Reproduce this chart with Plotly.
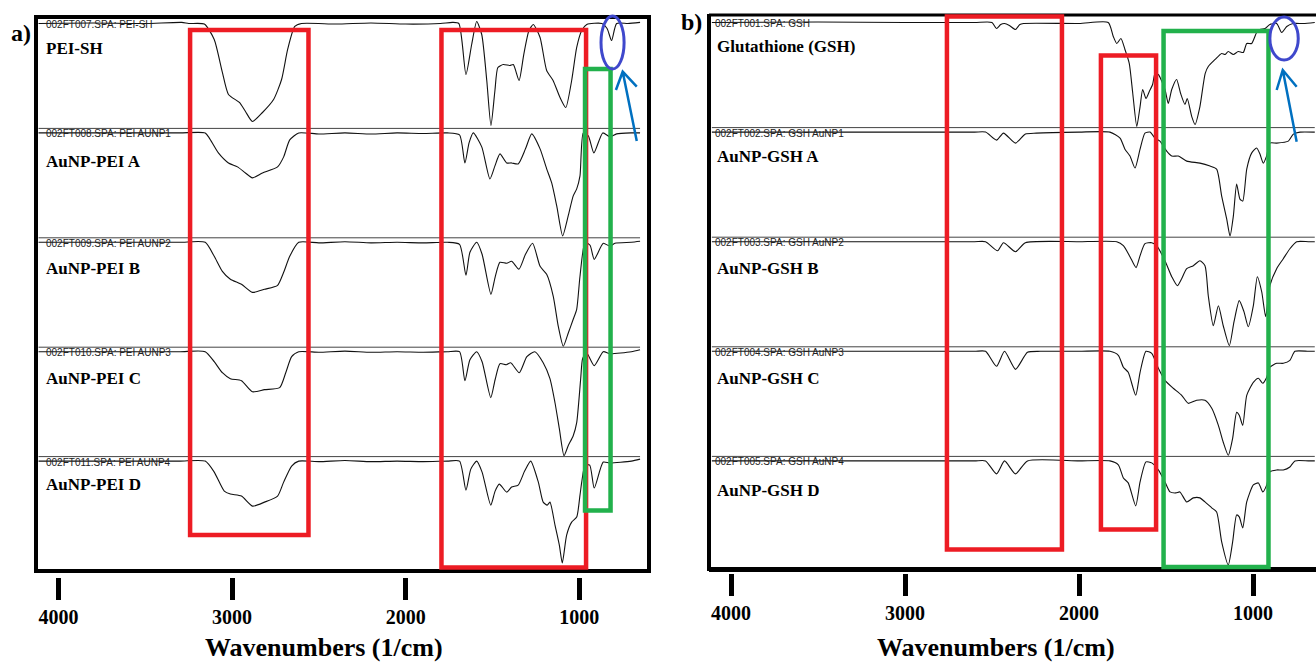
import plotly.graph_objects as go

# ---------------------------------------------------------------------------
# FTIR spectra: wavenumber (cm^-1) and transmittance (%T, 100 = baseline)
# ---------------------------------------------------------------------------

# (a) PEI series
pei_sh_wn = [4115, 3800, 3500, 3290, 3250, 3160, 3103, 3056, 3021, 2958, 2923, 2883, 2825, 2761, 2715, 2680,
             2639, 2600, 2400, 2200, 2000, 1800, 1730, 1694, 1653, 1620, 1591, 1562, 1533, 1509, 1486, 1469,
             1438, 1400, 1380, 1347, 1320, 1290, 1265, 1226, 1188, 1151, 1111, 1078, 1044, 1015, 986, 957,
             870, 840, 814, 785, 720, 650]
pei_sh_t = [100, 100.5, 100, 101, 100, 99.5, 85.5, 55.5, 35.5, 28.2, 20, 10.9, 19.1, 30.9, 49.1, 76.4,
            97.3, 100, 99.5, 100.5, 99.5, 100, 101, 100, 53.6, 80.9, 101.8, 90, 48.2, 7.3, 39.1, 60,
            62.7, 61.8, 62.7, 48.2, 71.8, 93.6, 99.1, 87.3, 57.3, 48.2, 32.7, 23.6, 48.2, 78.2, 93.6, 99.1,
            100, 95.5, 84.5, 100, 100, 101]

pei_a_wn = [4115, 3600, 3300, 3155, 3132, 3079, 3021, 2969, 2923, 2883, 2825, 2738, 2703, 2668, 2616, 2500,
            2350, 2200, 2050, 1900, 1760, 1690, 1659, 1635, 1611, 1562, 1515, 1486, 1457, 1418, 1390, 1352,
            1310, 1274, 1226, 1188, 1159, 1130, 1096, 1064, 1035, 1015, 996, 977, 948, 916, 865, 823, 785,
            700, 650]
pei_a_t = [100, 100, 100, 100, 95.5, 81.8, 72.7, 69.1, 63.6, 59.1, 63.6, 69.1, 78.2, 93.6, 100, 99,
           100, 99, 100, 99.5, 100, 98.2, 72.7, 90.9, 100, 87.3, 58.2, 70, 80.9, 72.7, 72.7, 71.8,
           85.5, 99.1, 85.5, 67.3, 54.5, 33.6, 6.4, 24.5, 42.7, 49.1, 60.9, 100, 97.3, 81.8, 100, 96.4, 99.1,
           100, 100]

pei_b_wn = [4115, 3600, 3300, 3155, 3103, 3056, 3010, 2946, 2883, 2813, 2738, 2703, 2668, 2616, 2500, 2350,
            2200, 2050, 1900, 1760, 1690, 1653, 1630, 1591, 1560, 1509, 1485, 1457, 1418, 1390, 1348, 1310,
            1269, 1226, 1188, 1150, 1121, 1092, 1064, 1035, 1015, 996, 967, 938, 914, 862, 823, 795, 700, 650]
pei_b_t = [100, 100, 100, 100, 87.3, 73.6, 66.4, 61.8, 54.5, 57.3, 60.9, 72.7, 87.3, 100, 99.5, 100.5,
           99.5, 100, 99.5, 100, 98.2, 70, 90.9, 100, 89.1, 52.7, 68.2, 81.8, 80.9, 82.7, 75.5, 89.1,
           99.1, 78.2, 70.9, 50.9, 23.6, 5.5, 17.3, 30, 39.1, 69.1, 100, 97.3, 84.5, 99.1, 96.4, 99.1, 100, 100.9]

pei_c_wn = [4115, 3600, 3300, 3155, 3103, 3056, 3010, 2946, 2883, 2813, 2726, 2691, 2657, 2616, 2500, 2350,
            2200, 2050, 1900, 1760, 1690, 1659, 1630, 1591, 1560, 1510, 1485, 1457, 1420, 1395, 1346, 1302,
            1256, 1208, 1169, 1140, 1115, 1088, 1064, 1035, 1015, 992, 981, 958, 914, 862, 823, 700, 650]
pei_c_t = [100, 100, 100, 100, 90.9, 80.9, 75.5, 73.6, 63.6, 65.5, 67.3, 80.9, 95.5, 100, 99.5, 100.5,
           99.5, 100, 99.5, 100, 100, 73.6, 92.7, 100, 90.9, 58.2, 74.5, 89.1, 88.2, 90, 80.9, 95.5,
           100, 90, 75.5, 53.6, 30, 5.5, 14.5, 23.6, 35.5, 75.5, 93.6, 99.1, 87.3, 100, 98.2, 100, 101.8]

pei_d_wn = [4115, 3600, 3300, 3155, 3103, 3045, 3010, 2946, 2883, 2813, 2738, 2703, 2657, 2616, 2500, 2350,
            2200, 2050, 1900, 1760, 1690, 1653, 1625, 1591, 1560, 1510, 1485, 1461, 1418, 1390, 1352, 1315,
            1280, 1236, 1208, 1185, 1169, 1140, 1115, 1098, 1073, 1044, 1015, 996, 986, 967, 940, 914, 862,
            823, 700, 650]
pei_d_t = [100, 100, 100, 100, 90, 72.7, 70, 68.2, 59.1, 62.7, 68.2, 80.9, 95.5, 100, 99.5, 100.5,
           99.5, 100, 99.5, 100, 100, 73.6, 92.7, 100, 90, 60, 72.7, 79.1, 71.8, 76.4, 78.2, 90.9,
           100, 80.9, 62.7, 60, 62.7, 41.8, 23.6, 7.3, 32.7, 44.5, 49.1, 69.1, 80.9, 96.4, 96.4, 75.5, 99.1,
           98.2, 100, 101.8]

# (b) GSH series
gsh_wn = [4110, 3500, 3000, 2600, 2500, 2474, 2450, 2428, 2400, 2365, 2340, 2319, 2000, 1832, 1803, 1783,
          1759, 1736, 1711, 1691, 1668, 1649, 1634, 1615, 1596, 1577, 1563, 1544, 1506, 1487, 1467, 1439,
          1416, 1391, 1378, 1352, 1333, 1305, 1275, 1257, 1218, 1180, 1161, 1142, 1113, 1085, 1056, 1036,
          1008, 979, 960, 931, 903, 864, 835, 806, 769, 711, 645]
gsh_t = [100, 100.5, 100, 100, 100, 94.5, 98.2, 99.1, 97.3, 93.6, 98.2, 99.1, 99.1, 100, 87.3, 80.9,
         85.5, 75.5, 62.7, 35.5, 5.5, 23.6, 39.1, 30.9, 37.3, 43.6, 53.6, 52.7, 39.1, 26.4, 39.1, 48.2,
         35.5, 25.5, 30.9, 14.5, 7.3, 23.6, 53.6, 60, 66.4, 71.8, 70.9, 73.6, 70.9, 73.6, 72.7, 80.9,
         80.9, 90.9, 93.6, 94.5, 98.2, 99.1, 90.9, 96.4, 99.1, 99.1, 100]

gsh_a_wn = [4110, 3500, 3000, 2600, 2537, 2474, 2434, 2365, 2308, 2245, 2000, 1822, 1764, 1736, 1707, 1678,
            1649, 1621, 1592, 1563, 1535, 1496, 1467, 1429, 1381, 1305, 1247, 1209, 1180, 1151, 1132, 1113,
            1094, 1075, 1059, 1036, 1008, 979, 960, 941, 922, 903, 864, 797, 768, 730, 645]
gsh_a_t = [100, 100, 100, 100, 100, 92.7, 99.1, 90, 98.2, 99.1, 100, 100, 94.5, 84.5, 78.2, 67.3,
           84.5, 99.1, 100, 94.5, 91.8, 82.7, 78.2, 78.2, 73.6, 71.8, 69.1, 66.4, 41.8, 20.9, 5.5, 23.6,
           52.7, 39.1, 37.3, 66.4, 80.9, 85.5, 80, 71.8, 78.2, 90, 90, 91.8, 98.2, 100, 100]

gsh_b_wn = [4110, 3500, 3000, 2600, 2537, 2468, 2434, 2365, 2308, 2000, 1783, 1745, 1707, 1672, 1649, 1621,
            1582, 1554, 1506, 1467, 1435, 1410, 1381, 1343, 1305, 1276, 1257, 1228, 1199, 1171, 1136, 1109,
            1079, 1052, 1027, 998, 975, 950, 927, 903, 864, 826, 788, 749, 682, 645]
gsh_b_t = [100, 100, 100, 100, 100, 91.8, 99.1, 90.9, 99.1, 100, 100, 96.4, 86.4, 76.4, 87.3, 98.2,
           99.1, 96.4, 82.7, 68.2, 60, 66.4, 75.5, 78.2, 82.7, 78.2, 50.9, 23.6, 41.8, 23.6, 5.5, 27.3,
           46.4, 36.4, 22.7, 41.8, 68.2, 54.5, 31.8, 60, 75.5, 84.5, 93.6, 100, 100, 100]

gsh_c_wn = [4110, 3500, 3000, 2600, 2537, 2474, 2428, 2365, 2296, 2222, 2000, 1822, 1774, 1745, 1717, 1674,
            1649, 1615, 1582, 1544, 1506, 1458, 1410, 1372, 1324, 1276, 1237, 1199, 1171, 1142, 1117, 1094,
            1079, 1059, 1036, 998, 969, 944, 921, 903, 864, 826, 788, 759, 682, 645]
gsh_c_t = [100, 100, 100, 100, 100, 86.4, 100, 83.6, 99.1, 100, 100, 100, 96.4, 85.5, 80.9, 60,
           80.9, 100, 98.2, 84.5, 73.6, 66.4, 60, 52.7, 55.5, 55.5, 48.2, 32.7, 17.3, 5.5, 20.9, 44.5,
           41.8, 32.7, 60, 71.8, 75.5, 70.9, 76.4, 85.5, 89.1, 89.1, 91.8, 100, 100, 100]

gsh_d_wn = [4110, 3500, 3000, 2600, 2537, 2474, 2428, 2365, 2296, 2000, 1822, 1774, 1745, 1717, 1674, 1649,
            1615, 1582, 1544, 1506, 1477, 1443, 1420, 1381, 1343, 1305, 1276, 1237, 1209, 1180, 1142, 1117,
            1094, 1079, 1059, 1036, 998, 969, 944, 921, 903, 864, 826, 788, 759, 682, 645]
gsh_d_t = [100, 100, 100, 100, 100, 88.2, 100, 88.2, 100, 100, 100, 96.4, 84.5, 80, 59.1, 80.9,
           99.1, 98.2, 91.8, 80.9, 71.8, 70.9, 71.8, 62.7, 66.4, 66.4, 62.7, 57.3, 53.6, 26.4, 5.5, 26.4,
           50.9, 49.1, 39.1, 62.7, 78.2, 80, 71.8, 78.2, 90, 91.8, 91.8, 94.5, 100, 100, 100]

pei_names = ["PEI-SH", "AuNP-PEI A", "AuNP-PEI B", "AuNP-PEI C", "AuNP-PEI D"]
pei_files = ["002FT007.SPA: PEI-SH", "002FT008.SPA: PEI AUNP1", "002FT009.SPA: PEI AUNP2",
             "002FT010.SPA: PEI AUNP3", "002FT011.SPA: PEI AUNP4"]
gsh_names = ["Glutathione (GSH)", "AuNP-GSH A", "AuNP-GSH B", "AuNP-GSH C", "AuNP-GSH D"]
gsh_files = ["002FT001.SPA: GSH", "002FT002.SPA: GSH AuNP1", "002FT003.SPA: GSH AuNP2",
             "002FT004.SPA: GSH AuNP3", "002FT005.SPA: GSH AuNP4"]

tick_values = [4000, 3000, 2000, 1000]
tick_labels = ["4000", "3000", "2000", "1000"]

# ---------------------------------------------------------------------------
# Layout geometry (pixels of a 1316 x 662 canvas)
# ---------------------------------------------------------------------------
W, H = 1316, 662
PX_PER_T = 1.1          # vertical pixels per %T inside a stacked row

RED, GREEN, INDIGO, ARROW = "#ED1C24", "#22B14C", "#3F48CC", "#0070C0"
SERIF = "Liberation Serif, Times New Roman, serif"
NARROW = "Liberation Sans Narrow, Arial Narrow, Liberation Sans, sans-serif"


def px(x):
    return x / W


def py(y):
    return 1 - y / H


def wn_range(left_px, right_px, px4000, scale):
    return [4000 + (px4000 - left_px) / scale, 4000 - (right_px - px4000) / scale]


panels = [
    dict(xa="x", ya="y", base0=23.5, step=109.4, label_x=44, file_x=44,
         x_dom=(36, 649), y_dom=(577, 5), px4000=58.5, scale=0.1736,
         spectra=[(pei_sh_wn, pei_sh_t), (pei_a_wn, pei_a_t), (pei_b_wn, pei_b_t),
                  (pei_c_wn, pei_c_t), (pei_d_wn, pei_d_t)],
         names=pei_names, files=pei_files,
         label_y=[48, 161.5, 268.5, 378.5, 485]),
    dict(xa="x2", ya="y2", base0=22.5, step=109.6, label_x=715, file_x=713,
         x_dom=(709, W), y_dom=(573, 5), px4000=731, scale=0.1740,
         spectra=[(gsh_wn, gsh_t), (gsh_a_wn, gsh_a_t), (gsh_b_wn, gsh_b_t),
                  (gsh_c_wn, gsh_c_t), (gsh_d_wn, gsh_d_t)],
         names=gsh_names, files=gsh_files,
         label_y=[46.5, 156, 268.5, 378.5, 490]),
]

fig = go.Figure()
shapes = []
annotations = []

for p in panels:
    for k, (wn, t) in enumerate(p["spectra"]):
        base = p["base0"] + k * p["step"]
        y = [-(base + (100 - v) * PX_PER_T) for v in t]
        fig.add_trace(go.Scatter(
            x=wn, y=y, xaxis=p["xa"], yaxis=p["ya"], mode="lines",
            line=dict(color="#111111", width=1.1, shape="spline", smoothing=0.6),
            hoverinfo="skip", showlegend=False))
        # row separator running across the spectrum
        if k > 0:
            shapes.append(dict(type="line", xref=p["xa"], yref=p["ya"],
                               x0=wn[0], x1=wn[-1], y0=-(base - 4.5), y1=-(base - 4.5),
                               line=dict(color="#444444", width=1)))
        annotations.append(dict(xref="paper", yref="paper", x=px(p["file_x"]), y=py(base + 1),
                                xanchor="left", yanchor="middle", showarrow=False,
                                text=p["files"][k],
                                font=dict(family=NARROW, size=10, color="#222222")))
        annotations.append(dict(xref="paper", yref="paper", x=px(p["label_x"]), y=py(p["label_y"][k]),
                                xanchor="left", yanchor="middle", showarrow=False,
                                text="<b>%s</b>" % p["names"][k],
                                font=dict(family=SERIF, size=17, color="black")))

axis_common = dict(showgrid=False, zeroline=False, showline=False, ticks="outside",
                   tickvals=tick_values, ticktext=tick_labels, ticklen=22, tickwidth=5,
                   tickcolor="black",
                   tickfont=dict(family=SERIF, size=20, color="black", weight="bold"))

layout_axes = {}
for i, p in enumerate(panels):
    sfx = "" if i == 0 else "2"
    layout_axes["xaxis" + sfx] = dict(
        axis_common, domain=[px(p["x_dom"][0]), px(p["x_dom"][1])],
        range=wn_range(p["x_dom"][0], p["x_dom"][1], p["px4000"], p["scale"]),
        anchor=p["ya"])
    layout_axes["yaxis" + sfx] = dict(
        domain=[py(p["y_dom"][0]), py(p["y_dom"][1])],
        range=[-p["y_dom"][0], -p["y_dom"][1]], visible=False, anchor=p["xa"])

# plot frames
shapes.append(dict(type="rect", xref="paper", yref="paper", x0=px(36), x1=px(649), y0=py(571), y1=py(17),
                   line=dict(color="black", width=4)))
for (x0, y0, x1, y1, w) in [(709, 14, 709, 571, 4), (709, 15, W, 15, 3), (709, 569.5, W, 569.5, 5)]:
    shapes.append(dict(type="line", xref="paper", yref="paper", x0=px(x0), x1=px(x1), y0=py(y0), y1=py(y1),
                       line=dict(color="black", width=w)))

# highlighted spectral regions (wavenumber span, vertical extent in row pixels)
highlights = [
    ("x", "y", "rect", 3242, 2560, 30, 535, RED, 4.5),
    ("x", "y", "rect", 1794, 961, 30, 567.5, RED, 4.5),
    ("x", "y", "rect", 967, 820, 69, 510.5, GREEN, 4.5),
    ("x", "y", "circle", 875, 742, 16, 69, INDIGO, 3),
    ("x2", "y2", "rect", 2759, 2098, 16.5, 549.5, RED, 4.5),
    ("x2", "y2", "rect", 1874, 1557, 55.5, 529.5, RED, 4.5),
    ("x2", "y2", "rect", 1514, 911, 31, 567, GREEN, 4.5),
    ("x2", "y2", "circle", 903, 740, 17, 60, INDIGO, 3),
]
for xa, ya, kind, w0, w1, y0, y1, col, lw in highlights:
    shapes.append(dict(type=kind, xref=xa, yref=ya, x0=w0, x1=w1, y0=-y0, y1=-y1,
                       line=dict(color=col, width=lw), fillcolor="rgba(0,0,0,0)"))

# open-headed arrows pointing at the circled S-H band: tail, tip, two barb ends
arrows = [
    ("x", "y", (669, 141), (750, 71.7), (789, 90), (669, 86.7)),
    ("x2", "y2", (749, 141.7), (829, 70), (864, 90), (749, 86.7)),
]
for xa, ya, tail, tip, barb1, barb2 in arrows:
    path = "M {},{} L {},{} M {},{} L {},{} L {},{}".format(
        tail[0], -tail[1], tip[0], -tip[1],
        barb1[0], -barb1[1], tip[0], -tip[1], barb2[0], -barb2[1])
    shapes.append(dict(type="path", xref=xa, yref=ya, path=path,
                       line=dict(color=ARROW, width=2.5)))

# panel letters and axis titles
for txt, x, y in [("a)", 21, 33), ("b)", 691, 22)]:
    annotations.append(dict(xref="paper", yref="paper", x=px(x), y=py(y), xanchor="center", yanchor="middle",
                            showarrow=False, text="<b>%s</b>" % txt,
                            font=dict(family=SERIF, size=24, color="black")))
for x in (324, 996):
    annotations.append(dict(xref="paper", yref="paper", x=px(x), y=py(647), xanchor="center", yanchor="middle",
                            showarrow=False, text="<b>Wavenumbers (1/cm)</b>",
                            font=dict(family=SERIF, size=26, color="black")))

fig.update_layout(
    width=W, height=H, margin=dict(l=0, r=0, t=0, b=0),
    paper_bgcolor="white", plot_bgcolor="white",
    shapes=shapes, annotations=annotations, showlegend=False,
    **layout_axes)

fig.write_html("out.html", config={"displayModeBar": False})
